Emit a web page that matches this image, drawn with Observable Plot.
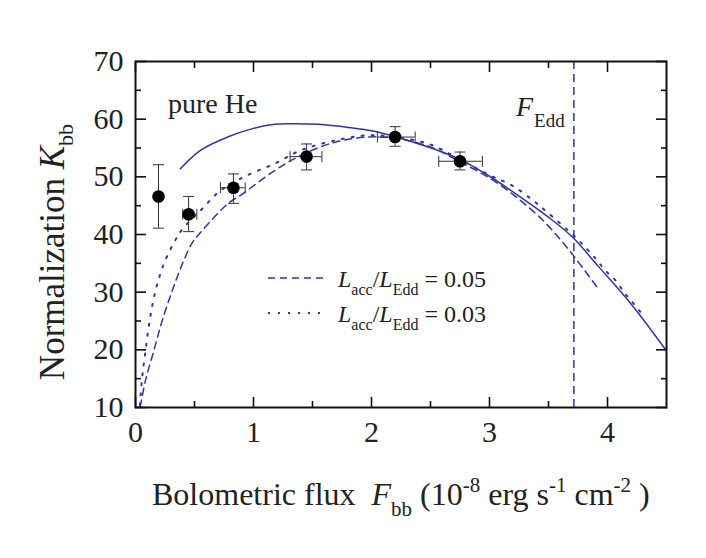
<!DOCTYPE html>
<html><head><meta charset="utf-8">
<script src="https://cdn.jsdelivr.net/npm/d3@7"></script>
<script src="https://cdn.jsdelivr.net/npm/@observablehq/plot@0.6"></script>
<style>body{margin:0;background:#fff;} svg{display:block}</style>
</head><body><div id="chart"></div>
<script>
// Observed data points (flux in 1e-8 erg/s/cm2, normalization K_bb)
const obsFlux   = [0.195, 0.45, 0.83, 1.45, 2.20, 2.75];
const obsNorm   = [46.6, 43.5, 48.1, 53.5, 56.9, 52.7];
const obsNormLo = [41.1, 40.5, 45.4, 51.2, 55.3, 51.2];
const obsNormHi = [52.1, 46.6, 50.5, 55.7, 58.7, 54.3];
const obsFluxLo = [0.195, 0.40, 0.72, 1.31, 2.05, 2.57];
const obsFluxHi = [0.195, 0.52, 0.93, 1.58, 2.37, 2.94];

// pure He model (solid)
const heFlux = [0.38, 0.55, 0.78, 1.0, 1.18, 1.29, 1.55, 1.83, 2.0, 2.2, 2.37, 2.6, 2.79, 3.0, 3.22, 3.5, 3.7, 3.93, 4.21, 4.49];
const heNorm = [51.4, 54.6, 56.9, 58.4, 59.1, 59.2, 59.1, 58.5, 58.0, 57.0, 55.9, 54.3, 52.6, 50.1, 47.1, 43.0, 39.6, 34.3, 27.7, 20.1];

// Lacc/LEdd = 0.05 (dashed)
const acc05Flux = [0.04, 0.085, 0.156, 0.227, 0.312, 0.397, 0.482, 0.553, 0.78, 0.89, 1.18, 1.40, 1.69, 1.97, 2.2, 2.5, 2.75, 3.0, 3.22, 3.45, 3.67, 3.91];
const acc05Norm = [10.1, 14.7, 19.9, 25.1, 30.3, 34.9, 38.6, 40.4, 45.3, 46.8, 51.1, 53.7, 56.0, 56.9, 56.7, 55.2, 52.6, 49.8, 46.6, 42.5, 37.4, 30.9];

// Lacc/LEdd = 0.03 (dotted)
const acc03Flux = [0.037, 0.057, 0.085, 0.12, 0.17, 0.24, 0.326, 0.397, 0.553, 0.72, 0.92, 1.18, 1.40, 1.69, 1.97, 2.2, 2.5, 2.75, 3.0, 3.19, 3.37, 3.47, 3.74, 3.90, 3.98, 4.07, 4.14, 4.21, 4.29];
const acc03Norm = [10.4, 15.3, 19.9, 25.1, 30.3, 34.9, 38.6, 40.9, 44.2, 47.6, 50.0, 52.3, 54.6, 56.3, 57.2, 56.9, 55.6, 53.0, 50.3, 48.5, 45.9, 44.2, 39.3, 35.8, 33.8, 32.0, 30.0, 28.3, 26.3];

// Eddington flux
const fEdd = [3.715];

// ticks
const xMajor = [0, 1, 2, 3, 4];
const xMinor = [0.5, 1.5, 2.5, 3.5];
const yMajor = [10, 20, 30, 40, 50, 60, 70];
const yMinor = [15, 25, 35, 45, 55, 65];

const LINE = "#3035a0";
const FONT = "'Liberation Serif', 'DejaVu Serif', serif";

const points = obsFlux.map((x, i) => ({x, y: obsNorm[i], yLo: obsNormLo[i], yHi: obsNormHi[i], xLo: obsFluxLo[i], xHi: obsFluxHi[i]}));
const xErr = points.filter(d => d.xHi > d.xLo);
const toCurve = (xs, ys) => xs.map((x, i) => ({x, y: ys[i]}));

const capH = {draw(ctx, size) {const r = Math.sqrt(size / Math.PI); ctx.moveTo(-r, 0); ctx.lineTo(r, 0);}};
const capV = {draw(ctx, size) {const r = Math.sqrt(size / Math.PI); ctx.moveTo(0, -r); ctx.lineTo(0, r);}};
const blank = () => "";
const axisStyle = {label: null, stroke: "#111", strokeWidth: 1.6};

const plot = Plot.plot({
  width: 706, height: 558,
  marginLeft: 135, marginRight: 40, marginTop: 61, marginBottom: 151,
  style: {fontFamily: FONT, fontSize: "30px", color: "#222", background: "white", overflow: "visible"},
  x: {domain: [0, 4.5]},
  y: {domain: [10, 70]},
  marks: [
    Plot.line(toCurve(heFlux, heNorm), {x: "x", y: "y", stroke: LINE, strokeWidth: 1.5, curve: "catmull-rom"}),
    Plot.line(toCurve(acc05Flux, acc05Norm), {x: "x", y: "y", stroke: LINE, strokeWidth: 1.5, strokeDasharray: "7,5", curve: "catmull-rom"}),
    Plot.line(toCurve(acc03Flux, acc03Norm), {x: "x", y: "y", stroke: LINE, strokeWidth: 2, strokeDasharray: "2,8", curve: "catmull-rom"}),
    Plot.ruleX(fEdd, {stroke: LINE, strokeWidth: 1.5, strokeDasharray: "8,5"}),
    // error bars
    Plot.ruleX(points, {x: "x", y1: "yLo", y2: "yHi", stroke: "#333", strokeWidth: 1}),
    Plot.ruleY(xErr, {y: "y", x1: "xLo", x2: "xHi", stroke: "#333", strokeWidth: 1}),
    Plot.dot(points, {x: "x", y: "yLo", symbol: capH, r: 5.5, stroke: "#333", fill: "none", strokeWidth: 1}),
    Plot.dot(points, {x: "x", y: "yHi", symbol: capH, r: 5.5, stroke: "#333", fill: "none", strokeWidth: 1}),
    Plot.dot(xErr, {x: "xLo", y: "y", symbol: capV, r: 5.5, stroke: "#333", fill: "none", strokeWidth: 1}),
    Plot.dot(xErr, {x: "xHi", y: "y", symbol: capV, r: 5.5, stroke: "#333", fill: "none", strokeWidth: 1}),
    Plot.dot(points, {x: "x", y: "y", r: 6.3, fill: "black", stroke: "none"}),
    Plot.frame({stroke: "#111", strokeWidth: 2}),
    // axes: inward ticks on all four sides
    Plot.axisX({anchor: "bottom", ticks: xMajor, tickSize: -10, tickPadding: 23, tickFormat: d => String(d), fill: "#222", ...axisStyle}),
    Plot.axisX({anchor: "bottom", ticks: xMinor, tickSize: -6, tickFormat: blank, ...axisStyle}),
    Plot.axisX({anchor: "top", ticks: xMajor, tickSize: -10, tickFormat: blank, ...axisStyle}),
    Plot.axisX({anchor: "top", ticks: xMinor, tickSize: -6, tickFormat: blank, ...axisStyle}),
    Plot.axisY({anchor: "left", ticks: yMajor, tickSize: -11, tickPadding: 23, tickFormat: d => String(d), fill: "#222", ...axisStyle}),
    Plot.axisY({anchor: "left", ticks: yMinor, tickSize: -6, tickFormat: blank, ...axisStyle}),
    Plot.axisY({anchor: "right", ticks: yMajor, tickSize: -11, tickFormat: blank, ...axisStyle}),
    Plot.axisY({anchor: "right", ticks: yMinor, tickSize: -6, tickFormat: blank, ...axisStyle})
  ]
});

document.getElementById("chart").appendChild(plot);

const svg = d3.select(plot);
// serif tick labels
svg.selectAll('g[aria-label$="tick label"]').style("font-family", FONT).style("font-size", "30px")
  .selectAll("text").style("font-family", FONT).style("font-size", "30px");

// annotations, titles and legend
const g = svg.append("g").style("font-family", FONT).attr("fill", "#222").attr("text-anchor", "start");

// y title
const yt = g.append("text").attr("transform", "translate(64,252) rotate(-90)").attr("text-anchor", "middle").attr("font-size", 35);
yt.append("tspan").text("Normalization ");
yt.append("tspan").attr("font-style", "italic").text("K");
yt.append("tspan").attr("font-size", 22).attr("dy", 9).text("bb");

// x title
const xt = g.append("text").attr("x", 152).attr("y", 505).attr("font-size", 32);
xt.append("tspan").text("Bolometric flux\u00a0\u00a0");
xt.append("tspan").attr("font-style", "italic").text("F");
xt.append("tspan").attr("font-size", 21).attr("dy", 11).text("bb");
xt.append("tspan").attr("dy", -11).text(" (10");
xt.append("tspan").attr("font-size", 21).attr("dy", -13).text("-8");
xt.append("tspan").attr("dy", 13).text(" erg s");
xt.append("tspan").attr("font-size", 21).attr("dy", -13).text("-1");
xt.append("tspan").attr("dy", 13).text(" cm");
xt.append("tspan").attr("font-size", 21).attr("dy", -13).text("-2");
xt.append("tspan").attr("dy", 13).text(" )");

// pure He label
g.append("text").attr("x", 168).attr("y", 113).attr("font-size", 28).text("pure He");

// F_Edd label
const fe = g.append("text").attr("x", 516).attr("y", 116).attr("font-size", 28);
fe.append("tspan").attr("font-style", "italic").text("F");
fe.append("tspan").attr("font-size", 19).attr("dy", 11).attr("dx", 1).text("Edd");

// legend
const legend = [
  {dash: "7,5", width: 1.5, value: "0.05", y: 278},
  {dash: "2,8", width: 2, value: "0.03", y: 313}
];
legend.forEach(l => {
  g.append("line").attr("x1", 268).attr("x2", 328).attr("y1", l.y).attr("y2", l.y)
    .attr("stroke", LINE).attr("stroke-width", l.width).attr("stroke-dasharray", l.dash);
  const t = g.append("text").attr("x", 338).attr("y", l.y + 9).attr("font-size", 24);
  t.append("tspan").attr("font-style", "italic").text("L");
  t.append("tspan").attr("font-size", 16).attr("dy", 8).text("acc");
  t.append("tspan").attr("dy", -8).text("/");
  t.append("tspan").attr("font-style", "italic").text("L");
  t.append("tspan").attr("font-size", 16).attr("dy", 8).text("Edd");
  t.append("tspan").attr("dy", -8).text(" = " + l.value);
});
</script>
</body></html>
